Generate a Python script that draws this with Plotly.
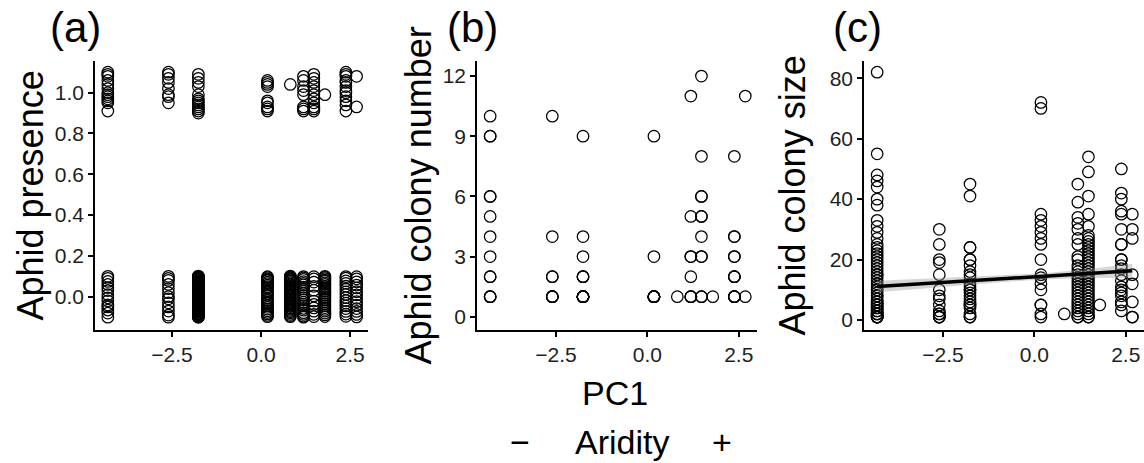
import plotly.graph_objects as go

# ---------------- data ----------------
site_pc1 = [-4.30, -2.60, -1.76, 0.18, 0.82, 1.19, 1.48, 1.79, 2.38, 2.68]

# panel (a): aphid presence (1 / 0) with vertical jitter, per site
presence_one_jittered = [
    [1.10, 1.09, 1.08, 1.06, 1.04, 1.02, 1.00, 0.99, 0.98, 0.97, 0.96, 0.95, 0.91],
    [1.10, 1.09, 1.07, 1.05, 1.02, 0.99, 0.98, 0.95],
    [1.09, 1.07, 1.05, 1.03, 0.99, 0.97, 0.96, 0.95, 0.94, 0.93, 0.92, 0.91, 0.90],
    [1.06, 1.05, 1.04, 1.03, 0.96, 0.95, 0.93, 0.92, 0.91],
    [1.04],
    [1.08, 1.06, 1.03, 1.01, 0.99, 0.93, 0.92, 0.91],
    [1.09, 1.07, 1.05, 1.03, 1.01, 0.99, 0.97, 0.95, 0.93, 0.92, 0.91],
    [0.99],
    [1.10, 1.09, 1.08, 1.06, 1.05, 1.03, 1.01, 1.00, 0.98, 0.96, 0.94, 0.91],
    [1.08, 0.93],
]
presence_zero_jittered = [
    [0.10, 0.09, 0.075, 0.06, 0.045, 0.03, 0.01, -0.005, -0.02, -0.04, -0.05, -0.065, -0.08, -0.10],
    [0.10, 0.09, 0.08, 0.06, 0.04, 0.02, 0.00, -0.01, -0.03, -0.05, -0.07, -0.09, -0.10],
    [0.101, 0.099, 0.095, 0.092, 0.089, 0.086, 0.084, 0.079, 0.076, 0.073, 0.071, 0.068,
     0.066, 0.063, 0.060, 0.058, 0.055, 0.051, 0.049, 0.046, 0.043, 0.040, 0.037, 0.034,
     0.030, 0.027, 0.024, 0.021, 0.019, 0.015, 0.012, 0.010, 0.006, 0.003, -0.001, -0.003,
     -0.005, -0.008, -0.011, -0.014, -0.017, -0.020, -0.023, -0.025, -0.029, -0.032,
     -0.034, -0.037, -0.040, -0.043, -0.046, -0.049, -0.051, -0.055, -0.058, -0.060,
     -0.063, -0.066, -0.069, -0.072, -0.075, -0.077, -0.081, -0.084, -0.086, -0.089,
     -0.092, -0.095, -0.097, -0.099, -0.101],
    [0.098, 0.094, 0.088, 0.083, 0.079, 0.071, 0.064, 0.057, 0.049, 0.042, 0.031, 0.024,
     0.013, 0.006, -0.008, -0.017, -0.026, -0.034, -0.043, -0.052, -0.061, -0.069,
     -0.077, -0.084, -0.091, -0.098],
    [0.101, 0.097, 0.093, 0.088, 0.084, 0.079, 0.075, 0.069, 0.063, 0.058, 0.052, 0.046,
     0.041, 0.035, 0.028, 0.022, 0.016, 0.009, 0.003, -0.004, -0.011, -0.017, -0.023,
     -0.029, -0.036, -0.042, -0.048, -0.055, -0.061, -0.067, -0.073, -0.079, -0.086,
     -0.092, -0.098],
    [0.099, 0.092, 0.085, 0.074, 0.066, 0.058, 0.047, 0.038, 0.029, 0.018, 0.006, -0.004,
     -0.015, -0.027, -0.036, -0.045, -0.057, -0.066, -0.078, -0.087, -0.095, -0.100],
    [0.098, 0.088, 0.072, 0.051, 0.032, 0.004, -0.021, -0.038, -0.055, -0.071, -0.086, -0.097],
    [0.100, 0.095, 0.089, 0.082, 0.076, 0.068, 0.061, 0.052, 0.044, 0.036, 0.027, 0.018,
     0.009, 0.001, -0.008, -0.017, -0.026, -0.035, -0.044, -0.053, -0.062, -0.071,
     -0.080, -0.089, -0.097],
    [0.099, 0.091, 0.078, 0.066, 0.052, 0.039, 0.024, 0.011, -0.004, -0.019, -0.031,
     -0.045, -0.058, -0.072, -0.085, -0.096],
    [0.098, 0.088, 0.073, 0.057, 0.043, 0.025, 0.009, -0.008, -0.024, -0.041, -0.058,
     -0.072, -0.087, -0.099],
]

# panel (b): number of aphid colonies per plant, per site
colony_number = [
    [10, 9, 9, 6, 6, 5, 4, 3, 2, 2, 1, 1, 1],
    [10, 4, 2, 2, 1, 1, 1, 1],
    [9, 4, 3, 2, 2, 2, 1, 1, 1, 1, 1, 1, 1],
    [9, 3, 1, 1, 1, 1, 1, 1, 1],
    [1],
    [11, 5, 3, 3, 2, 1, 1, 1],
    [12, 8, 6, 6, 5, 5, 4, 3, 3, 1, 1],
    [1],
    [8, 4, 4, 3, 3, 2, 2, 2, 1, 1, 1, 1],
    [11, 1],
]

# panel (c): aphid colony size, per site
colony_size = [
    [82, 55, 48, 46, 44, 40, 38, 33, 31, 29, 27, 25, 24, 23, 22, 21, 20, 19, 18, 17, 16,
     15, 15, 14, 13, 12, 11, 10, 10, 9, 8, 8, 7, 6, 6, 5, 5, 4, 4, 3, 3, 2, 2, 2, 1, 1, 1, 1],
    [30, 25, 20, 19, 15, 10, 8, 7, 5, 3, 2, 2, 1, 1, 1],
    [45, 41, 24, 24, 20, 20, 18, 16, 15, 14, 12, 11, 10, 10, 9, 8, 7, 6, 5, 5, 4, 2, 1, 1],
    [72, 70, 35, 33, 31, 29, 27, 25, 20, 15, 14, 12, 10, 5, 5, 2, 1],
    [2],
    [45, 39, 34, 32, 30, 27, 25, 21, 20, 18, 17, 16, 15, 14, 13, 12, 11, 10, 9, 8, 7, 6,
     5, 4, 3, 2, 1, 1],
    [54, 49, 41, 35, 31, 28, 27, 26, 25, 24, 23, 22, 21, 20, 19, 18, 17, 16, 15, 14, 13,
     12, 11, 10, 9, 8, 7, 6, 5, 4, 3, 2, 1, 1],
    [5],
    [50, 42, 40, 36, 35, 30, 25, 25, 20, 20, 18, 17, 15, 13, 11, 10, 9, 8, 6, 5, 3],
    [35, 30, 27, 15, 12, 6, 1, 1],
]

# fitted linear model for panel (c) and its confidence band half-width
fit_intercept = 14.3
fit_slope = 0.745
band_pc1 = [-4.30, -2.60, -1.00, 0.18, 1.50, 2.68]
band_halfwidth = [1.9, 1.5, 1.1, 1.0, 1.5, 2.3]

# ticks
x_tick_vals = [-2.5, 0.0, 2.5]
x_tick_text = ["\u22122.5", "0.0", "2.5"]
a_tick_vals = [0.0, 0.2, 0.4, 0.6, 0.8, 1.0]
a_tick_text = ["0.0", "0.2", "0.4", "0.6", "0.8", "1.0"]
b_tick_vals = [0, 3, 6, 9, 12]
c_tick_vals = [0, 20, 40, 60, 80]

panel_labels = ["(a)", "(b)", "(c)"]
y_titles = ["Aphid presence", "Aphid colony number", "Aphid colony size"]
x_title = "PC1"
aridity_text = ["\u2212", "Aridity", "+"]

# ---------------- figure ----------------
FONT = "Liberation Sans, Arial, Helvetica, sans-serif"
W, H = 1144, 463

def px_x(p):
    return p / W

def px_y(p):
    return (H - p) / H

marker = dict(symbol="circle-open", size=11.5, color="black", line=dict(width=1.25, color="black"))

def expand(groups):
    xs, ys = [], []
    for xv, vals in zip(site_pc1, groups):
        for v in vals:
            xs.append(xv)
            ys.append(v)
    return xs, ys

fig = go.Figure()

xa, ya = expand(presence_zero_jittered)
xb, yb = expand(presence_one_jittered)
fig.add_trace(go.Scatter(x=xa + xb, y=ya + yb, mode="markers", marker=marker,
                         xaxis="x", yaxis="y", showlegend=False))

xn, yn = expand(colony_number)
fig.add_trace(go.Scatter(x=xn, y=yn, mode="markers", marker=marker,
                         xaxis="x2", yaxis="y2", showlegend=False))

xs, ys = expand(colony_size)
fig.add_trace(go.Scatter(x=xs, y=ys, mode="markers", marker=marker,
                         xaxis="x3", yaxis="y3", showlegend=False))

fit_at_band = [fit_intercept + fit_slope * x for x in band_pc1]
upper = [f + h for f, h in zip(fit_at_band, band_halfwidth)]
lower = [f - h for f, h in zip(fit_at_band, band_halfwidth)]
fig.add_trace(go.Scatter(x=band_pc1 + band_pc1[::-1], y=upper + lower[::-1],
                         fill="toself", fillcolor="rgba(153,153,153,0.4)",
                         line=dict(width=0), mode="lines", hoverinfo="skip",
                         xaxis="x3", yaxis="y3", showlegend=False))
line_x = [min(site_pc1), max(site_pc1)]
fig.add_trace(go.Scatter(x=line_x, y=[fit_intercept + fit_slope * x for x in line_x],
                         mode="lines", line=dict(color="black", width=3.5),
                         xaxis="x3", yaxis="y3", showlegend=False))

axis_common = dict(showline=True, linecolor="black", linewidth=1.5, ticks="outside",
                   ticklen=5, tickwidth=1.5, tickcolor="black", showgrid=False,
                   zeroline=False, tickfont=dict(family=FONT, size=21, color="#1e1e1e"))

x_domains = [[px_x(95), px_x(368)], [px_x(477), px_x(757)], [px_x(864), 1.0]]
y_domain = [px_y(330), px_y(61)]

for i, dom in enumerate(x_domains):
    suffix = "" if i == 0 else str(i + 1)
    fig.layout["xaxis" + suffix] = dict(axis_common, domain=dom, range=[-4.66, 3.0],
                                        tickvals=x_tick_vals, ticktext=x_tick_text,
                                        anchor="y" + suffix)
fig.layout["yaxis"] = dict(axis_common, domain=y_domain, range=[-0.163, 1.155],
                           tickvals=a_tick_vals, ticktext=a_tick_text, anchor="x")
fig.layout["yaxis2"] = dict(axis_common, domain=y_domain, range=[-0.66, 12.75],
                            tickvals=b_tick_vals, anchor="x2")
fig.layout["yaxis3"] = dict(axis_common, domain=y_domain, range=[-3.3, 85.7],
                            tickvals=c_tick_vals, anchor="x3")

annotations = []
label_x = [75, 473, 857]
for lab, lx in zip(panel_labels, label_x):
    annotations.append(dict(text=lab, x=px_x(lx), y=px_y(27), xref="paper", yref="paper",
                            xanchor="center", yanchor="middle", showarrow=False,
                            font=dict(family=FONT, size=42, color="black")))
title_x = [30, 418, 792]
for t, tx in zip(y_titles, title_x):
    annotations.append(dict(text=t, x=px_x(tx), y=px_y(195.5), xref="paper", yref="paper",
                            xanchor="center", yanchor="middle", textangle=-90, showarrow=False,
                            font=dict(family=FONT, size=36, color="black")))
annotations.append(dict(text=x_title, x=px_x(615), y=px_y(393), xref="paper", yref="paper",
                        xanchor="center", yanchor="middle", showarrow=False,
                        font=dict(family=FONT, size=34, color="black")))
for t, tx in zip(aridity_text, [520, 621.5, 721.7]):
    annotations.append(dict(text=t, x=px_x(tx), y=px_y(442), xref="paper", yref="paper",
                            xanchor="center", yanchor="middle", showarrow=False,
                            font=dict(family=FONT, size=34, color="black")))

fig.update_layout(width=W, height=H, margin=dict(l=0, r=0, t=0, b=0),
                  plot_bgcolor="white", paper_bgcolor="white",
                  annotations=annotations, showlegend=False)

fig.write_html("out.html", config={"displayModeBar": False},
               post_script="document.body.style.margin='0';document.body.style.overflow='hidden';")
